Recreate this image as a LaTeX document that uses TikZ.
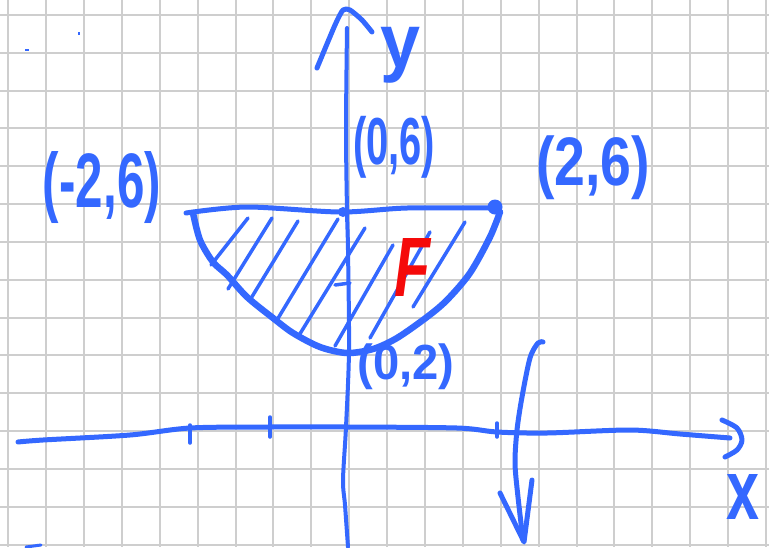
\documentclass[tikz,border=0pt]{standalone}
\usepackage{fontspec}
\setmainfont{Liberation Sans}
\definecolor{ink}{RGB}{52,104,255}
\definecolor{redink}{RGB}{245,10,10}
\definecolor{gridc}{RGB}{206,206,206}
\tikzset{
  gridline/.style={draw=gridc,line width=2pt},
  pen/.style={draw=ink,line width=5pt,line cap=round,line join=round},
  thickpen/.style={draw=ink,line width=6.5pt,line cap=round,line join=round},
  thinpen/.style={draw=ink,line width=3.5pt,line cap=round},
  hatchline/.style={draw=ink,line width=3.5pt,line cap=round},
  lbl/.style={text=ink,inner sep=0pt,font=\fontsize{40}{40}\selectfont\bfseries},
}
\begin{document}
\begin{tikzpicture}[x=1pt,y=-1pt]
\useasboundingbox (0,0) rectangle (769,547);
\fill[white] (0,0) rectangle (769,547);
% grid paper
\foreach \i in {0,...,20} \draw[gridline] ({8.3+37.885*\i},0) -- ({8.3+37.885*\i},547);
\foreach \j in {0,...,14} \draw[gridline] (0,{15+37.83*\j}) -- (769,{15+37.83*\j});
% stray marks
\draw[ink,line width=1.5pt] (25,50) -- (28.5,50);
\draw[ink,line width=1.5pt] (79,32) -- (79,34.5);
\draw[ink,line width=3pt,line cap=round] (26,547) -- (41,545);
% x-axis
\draw[pen] plot[smooth,tension=0.5] coordinates {(18,442)(43,440)(130,435)(190,428)(267,427)(347,427)(457,428)(497,432)(547,433)(630,430)(680,434)(730,438)};
\draw[pen] plot[smooth] coordinates {(722,420)(737,428)(742,440)(737,450)(725,457)};
\coordinate (t1a) at (190,425); \coordinate (t1b) at (190,443);
\coordinate (t2a) at (270,417); \coordinate (t2b) at (270,437);
\coordinate (t3a) at (497,423); \coordinate (t3b) at (497,437);
\draw[thinpen] (t1a) -- (t1b);
\draw[thinpen] (t2a) -- (t2b);
\draw[thinpen] (t3a) -- (t3b);
% y-axis
\draw[draw=ink,line width=4pt,line cap=round] plot[smooth] coordinates {(348,547)(345,505)(343,480)(346,427)(349,350)(348,250)(347,211)(346,130)(347,28)};
\draw[pen] plot[smooth,tension=0.4] coordinates {(317,68)(335,25)(343,10)(350,10)(362,20)(372,32)};
% vertical arrow on the right
\draw[pen] plot[smooth] coordinates {(543,342)(538,343)(530,358)(522,397)(517,430)(515,463)(518,497)(523,540)};
\coordinate (ah1) at (500,493); \coordinate (ah2) at (524,542); \coordinate (ah3) at (532,480);
\draw[pen] (ah1) -- (ah2) -- (ah3);
% hatching
\draw[hatchline] (211,265) -- (248,218);
\draw[hatchline] (228,289) -- (272,218);
\draw[hatchline] (250,300) -- (298,221);
\draw[hatchline] (277,320) -- (338,219);
\draw[hatchline] (298,337) -- (365,228);
\draw[hatchline] (335,346) -- (393,245);
\draw[hatchline] (370,338) -- (430,232);
\draw[hatchline] (413,307) -- (465,222);
\draw[thinpen] (335,285) -- (350,283);
% region boundary
\draw[pen] plot[smooth] coordinates {(186,213)(247,207)(340,212)(407,208)(495,208)};
\draw[thickpen] plot[smooth] coordinates {(193,213)(200,240)(213,262)(227,275)(247,297)(273,318)(293,333)(320,347)(347,353)(373,349)(397,338)(427,317)(447,300)(470,273)(490,237)(500,212)};
\fill[ink] (343,212) circle (5);
\fill[ink] (495,207) circle (7.5);
% labels
\node[lbl] (pm26) at (102,188) {\resizebox*{118pt}{72pt}{(-2,6)}};
\node[lbl] (p06) at (394,147) {\resizebox*{82pt}{62pt}{(0,6)}};
\node[lbl] (p26) at (593,168) {\resizebox*{114pt}{64pt}{(2,6)}};
\node[lbl] (p02) at (406,367) {\resizebox*{97pt}{46pt}{(0,2)}};
\node[lbl] (ylab) at (400,55) {\resizebox*{40pt}{56pt}{y}};
\node[lbl] (xlab) at (743,497) {\resizebox*{33pt}{45pt}{x}};
\node[lbl,text=redink] (flab) at (412,267) {\resizebox*{36pt}{58pt}{\itshape F}};
\end{tikzpicture}
\end{document}
